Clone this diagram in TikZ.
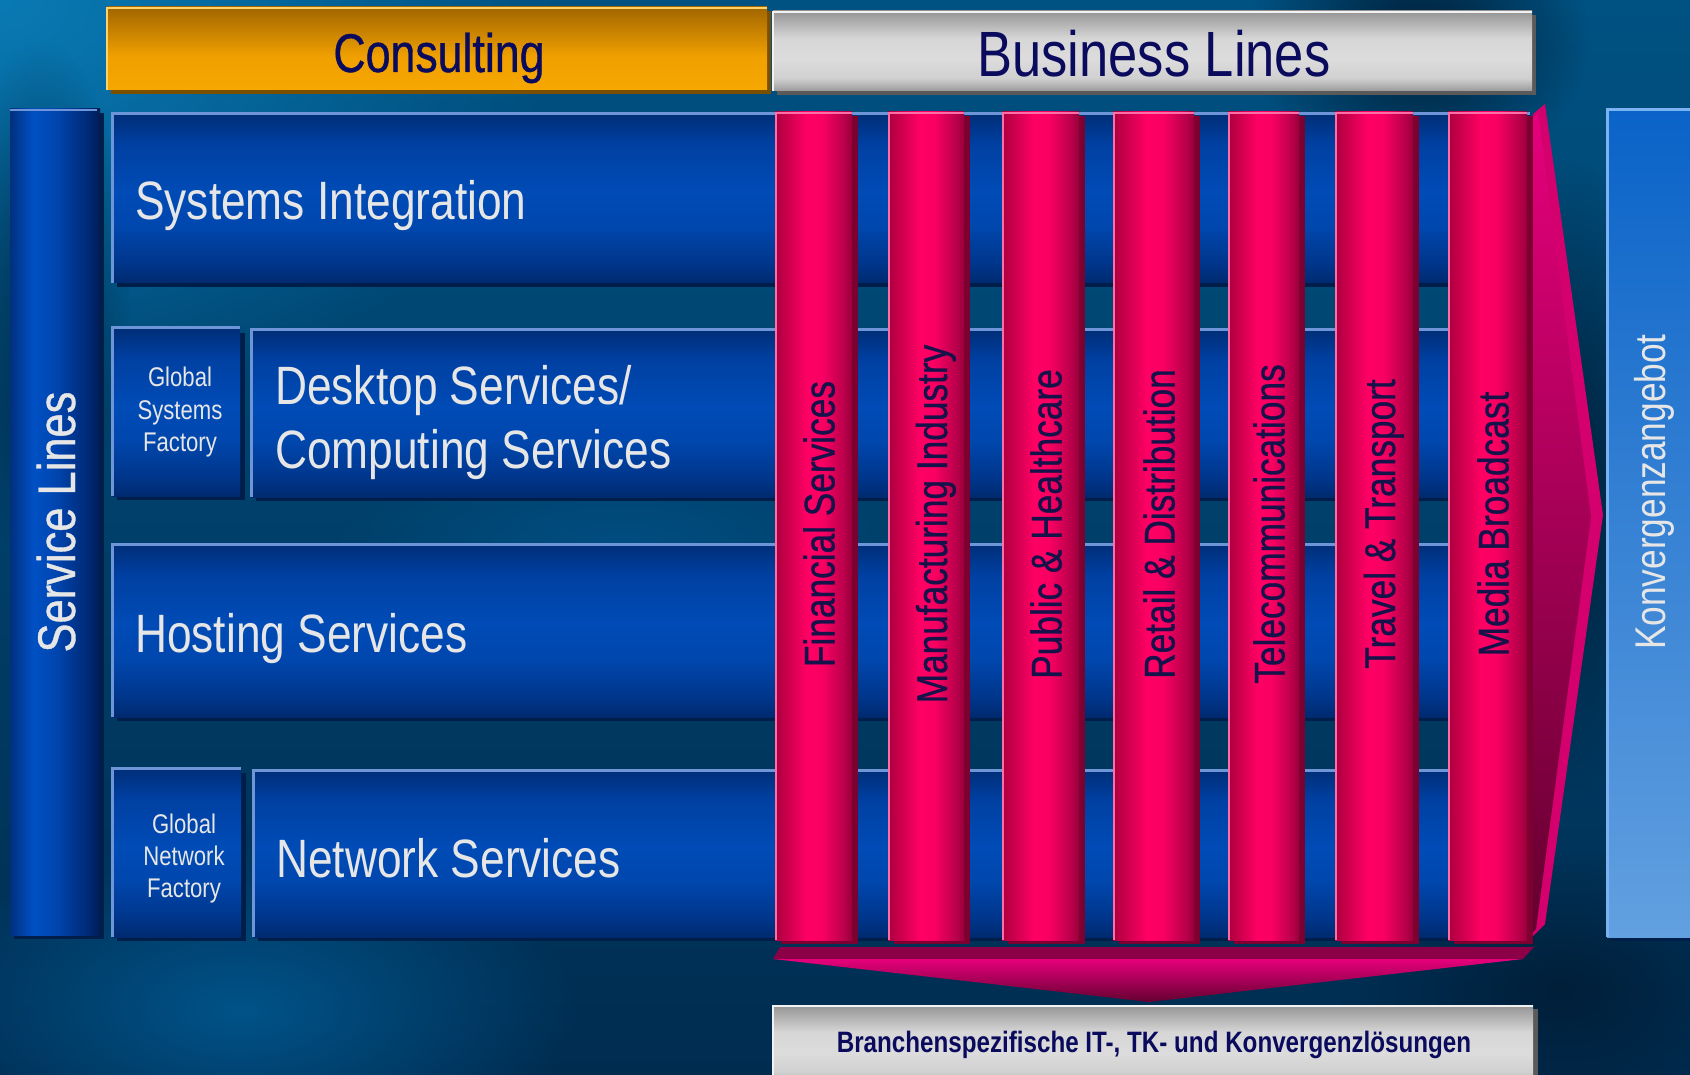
\documentclass[tikz,border=0pt]{standalone}
\usepackage{fontspec}
\setmainfont{Liberation Sans}
\newfontfamily\nar[FakeStretch=0.82]{Liberation Sans}
\newfontfamily\narheavy[FakeStretch=0.82, FakeBold=0.7]{Liberation Sans}
\usetikzlibrary{fadings}
\tikzfading[name=softspot, inner color=transparent!0, outer color=transparent!100]

% palette
\definecolor{bgTop}{HTML}{005282}
\definecolor{bgBot}{HTML}{002C50}
\definecolor{glowA}{HTML}{0A7AB4}
\definecolor{glowB}{HTML}{00578F}
\definecolor{darkspot}{HTML}{00182E}
\definecolor{navytxt}{HTML}{0B0B5E}
\definecolor{pilltxt}{HTML}{15134A}
\definecolor{lighttxt}{HTML}{E6E6E6}
\definecolor{rowA}{HTML}{002A70}
\definecolor{rowB}{HTML}{00368C}
\definecolor{rowC}{HTML}{0047AE}
\definecolor{rowD}{HTML}{004BB6}
\definecolor{rowE}{HTML}{0040A2}
\definecolor{rowF}{HTML}{002E78}
\definecolor{rowedge}{HTML}{6E95D8}
\definecolor{rowshadow}{HTML}{001E4A}
\definecolor{cylA}{HTML}{00307E}
\definecolor{cylB}{HTML}{0050C4}
\definecolor{cylC}{HTML}{0046B0}
\definecolor{cylD}{HTML}{002A78}
\definecolor{cylE}{HTML}{001C55}
\definecolor{orA}{HTML}{F6A700}
\definecolor{orB}{HTML}{F0A000}
\definecolor{orC}{HTML}{A26600}
\definecolor{oredge}{HTML}{FFD36A}
\definecolor{orshadow}{HTML}{7A5000}
\definecolor{grA}{HTML}{9B9B9B}
\definecolor{grB}{HTML}{D0D0D0}
\definecolor{grC}{HTML}{DCDCDC}
\definecolor{grD}{HTML}{D6D6D6}
\definecolor{grE}{HTML}{A8A8A8}
\definecolor{grF}{HTML}{949494}
\definecolor{gredge}{HTML}{F2F2F2}
\definecolor{grshadow}{HTML}{5A5A5A}
\definecolor{pkA}{HTML}{AC003E}
\definecolor{pkB}{HTML}{FF0064}
\definecolor{pkC}{HTML}{F80062}
\definecolor{pkD}{HTML}{B8004A}
\definecolor{pkE}{HTML}{98003A}
\definecolor{pkedge}{HTML}{FF6EA6}
\definecolor{pkshadow}{HTML}{7C0030}
\definecolor{chevband}{HTML}{D4006E}
\definecolor{chevtop}{HTML}{E6007C}
\definecolor{chevmid}{HTML}{B0005A}
\definecolor{chevbot}{HTML}{64002F}
\definecolor{arrband}{HTML}{8C0048}
\definecolor{kvA}{HTML}{62A0E0}
\definecolor{kvB}{HTML}{0A63C8}
\definecolor{kvedge}{HTML}{7AB2F2}

% gradients (vertical ones run bottom to top)
\pgfdeclareverticalshading{rowsh}{100bp}{color(0bp)=(rowA); color(25bp)=(rowA); color(31bp)=(rowB); color(42bp)=(rowC); color(52bp)=(rowD); color(66bp)=(rowE); color(75bp)=(rowF); color(100bp)=(rowF)}
\pgfdeclarehorizontalshading{cylsh}{100bp}{color(0bp)=(cylA); color(25bp)=(cylA); color(38bp)=(cylB); color(50bp)=(cylC); color(68bp)=(cylD); color(75bp)=(cylE); color(100bp)=(cylE)}
\pgfdeclareverticalshading{orsh}{100bp}{color(0bp)=(orA); color(25bp)=(orA); color(45bp)=(orB); color(75bp)=(orC); color(100bp)=(orC)}
\pgfdeclareverticalshading{grsh}{100bp}{color(0bp)=(grA); color(25bp)=(grA); color(33bp)=(grB); color(45bp)=(grC); color(58bp)=(grD); color(70bp)=(grE); color(75bp)=(grF); color(100bp)=(grF)}
\pgfdeclarehorizontalshading{pksh}{100bp}{color(0bp)=(pkA); color(25bp)=(pkA); color(46bp)=(pkB); color(56bp)=(pkC); color(70bp)=(pkD); color(75bp)=(pkE); color(100bp)=(pkE)}
\pgfdeclareverticalshading{kvsh}{100bp}{color(0bp)=(kvA); color(25bp)=(kvA); color(75bp)=(kvB); color(100bp)=(kvB)}

% a service-line box: left, top, right, bottom
\newcommand\svbox[4]{%
  \fill[rowshadow] ({#1+5},{#2+5}) rectangle ({#3+5},{#4+4});
  \shade[shading=rowsh] (#1,#2) rectangle (#3,#4);
  \draw[rowedge, line width=3pt] (#1,#4) -- (#1,#2) -- (#3,#2);
}
% a business-line pillar: left, right, node name, label
\newcommand\pinkpillar[4]{%
  \fill[pkshadow] ({#1+6},116) rectangle ({#2+6},944);
  \shade[shading=pksh] (#1,112) rectangle (#2,940);
  \draw[pkedge, line width=2.5pt] ({#1+1},940) -- ({#1+1},113) -- (#2,113);
  \node[pilltext] (#3) at ({(#1+#2)/2+21},524) {#4};
}

\begin{document}
\begin{tikzpicture}[x=1pt, y=-1pt,
  rowtext/.style={font={\nar\fontsize{54}{60}\selectfont}, text=lighttxt, anchor=base west, inner sep=0pt},
  smalltext/.style={font={\nar\fontsize{27}{30}\selectfont}, text=lighttxt, anchor=base, inner sep=0pt},
  pilltext/.style={font={\narheavy\fontsize{43}{48}\selectfont}, text=pilltxt, rotate=90, anchor=base, inner sep=0pt},
  sidetext/.style={text=lighttxt, rotate=90, anchor=base, inner sep=0pt},
  headtext/.style={text=navytxt, anchor=base, inner sep=0pt}]

\useasboundingbox (0,0) rectangle (1690,1075);
\clip (0,0) rectangle (1690,1075);

% backdrop
\shade[top color=bgTop, bottom color=bgBot] (0,0) rectangle (1690,1075);
\fill[glowA, path fading=softspot] (0,0) ellipse [x radius=560, y radius=420];
\fill[glowB, path fading=softspot, opacity=0.9] (240,1010) ellipse [x radius=340, y radius=170];
\fill[glowB, path fading=softspot, opacity=0.7] (620,560) ellipse [x radius=300, y radius=120];
\fill[darkspot, path fading=softspot, opacity=0.9] (1420,40) ellipse [x radius=170, y radius=140];
\fill[darkspot, path fading=softspot, opacity=0.8] (1570,480) ellipse [x radius=110, y radius=320];
\fill[darkspot, path fading=softspot, opacity=0.7] (1560,990) ellipse [x radius=220, y radius=140];
\fill[darkspot, path fading=softspot, opacity=0.6] (40,300) ellipse [x radius=90, y radius=260];

% Service Lines column
\fill[rowshadow] (14,113) rectangle (104,939);
\shade[shading=cylsh] (10,109) rectangle (100,935);
\draw[rowedge, line width=2pt] (10,110) -- (97,110);
\node[sidetext, font={\narheavy\fontsize{53}{58}\selectfont}] (svlines) at (75,522) {Service Lines};

% headers
\fill[orshadow] (111,11) rectangle (771,94);
\shade[shading=orsh] (107,7) rectangle (767,90);
\draw[oredge, line width=2.5pt] (107,90) -- (107,8) -- (767,8);
\node[headtext, font={\narheavy\fontsize{54.5}{60}\selectfont}] (consulting) at (439,72) {Consulting};

\fill[grshadow] (777,15) rectangle (1536,95);
\shade[shading=grsh] (773,11) rectangle (1532,91);
\draw[gredge, line width=2.5pt] (773,91) -- (773,12) -- (1532,12);
\node[headtext, font={\nar\fontsize{64}{70}\selectfont}] (business) at (1154,77) {Business Lines};

% service-line rows
\svbox{112}{114}{1530}{283}
\svbox{112}{328}{240}{496}
\svbox{251}{330}{1530}{497}
\svbox{112}{544}{1530}{717}
\svbox{112}{768}{241}{937}
\svbox{253}{770}{1530}{937}

\node[rowtext] (si) at (135,220) {Systems Integration};
\node[rowtext] (ds1) at (275,404) {Desktop Services/};
\node[rowtext] (ds2) at (275,468) {Computing Services};
\node[rowtext] (hs) at (135,652) {Hosting Services};
\node[rowtext] (ns) at (276,877) {Network Services};

\node[smalltext] (gsf1) at (180,387) {Global};
\node[smalltext] (gsf2) at (180,419) {Systems};
\node[smalltext] (gsf3) at (180,451) {Factory};
\node[smalltext] (gnf1) at (184,833) {Global};
\node[smalltext] (gnf2) at (184,865) {Network};
\node[smalltext] (gnf3) at (184,897) {Factory};

% business-line pillars
\pinkpillar{775}{852}{fin}{Financial Services}
\pinkpillar{888}{964}{man}{Manufacturing Industry}
\pinkpillar{1002}{1079}{pub}{Public \& Healthcare}
\pinkpillar{1113}{1194}{ret}{Retail \& Distribution}
\pinkpillar{1228}{1299}{tel}{Telecommunications}
\pinkpillar{1335}{1413}{tra}{Travel \& Transport}
\pinkpillar{1448}{1527}{med}{Media Broadcast}

% arrow to the right
\fill[chevband] (1533,114) -- (1545,104) -- (1603,515) -- (1545,924) -- (1533,936) -- cycle;
\shade[top color=chevtop, middle color=chevmid, bottom color=chevbot]
  (1533,118) -- (1538,113) -- (1591,517) -- (1536,929) -- (1533,932) -- cycle;

% arrow downwards
\fill[arrband] (780,947) -- (1534,947) -- (1523,959) -- (773,959) -- cycle;
\shade[top color=chevtop, middle color=chevtop!85!chevbot, bottom color=chevbot]
  (773,959) -- (1523,959) -- (1149,1002) -- cycle;

% bottom label
\fill[grshadow] (777,1009) rectangle (1538,1085);
\shade[shading=grsh] (773,1005) rectangle (1533,1085);
\draw[gredge, line width=2.5pt] (773,1085) -- (773,1006) -- (1533,1006);
\node[headtext, font={\nar\bfseries\fontsize{29.5}{34}\selectfont}] (branchen) at (1154,1052)
  {Branchenspezifische IT-, TK- und Konvergenzlösungen};

% convergence column
\fill[rowshadow] (1611,113) rectangle (1700,941);
\shade[shading=kvsh] (1607,109) rectangle (1700,937);
\draw[kvedge, line width=3pt] (1607,937) -- (1607,110) -- (1700,110);
\node[sidetext, font={\nar\fontsize{43}{48}\selectfont}] (konv) at (1665,492) {Konvergenzangebot};

\end{tikzpicture}
\end{document}
